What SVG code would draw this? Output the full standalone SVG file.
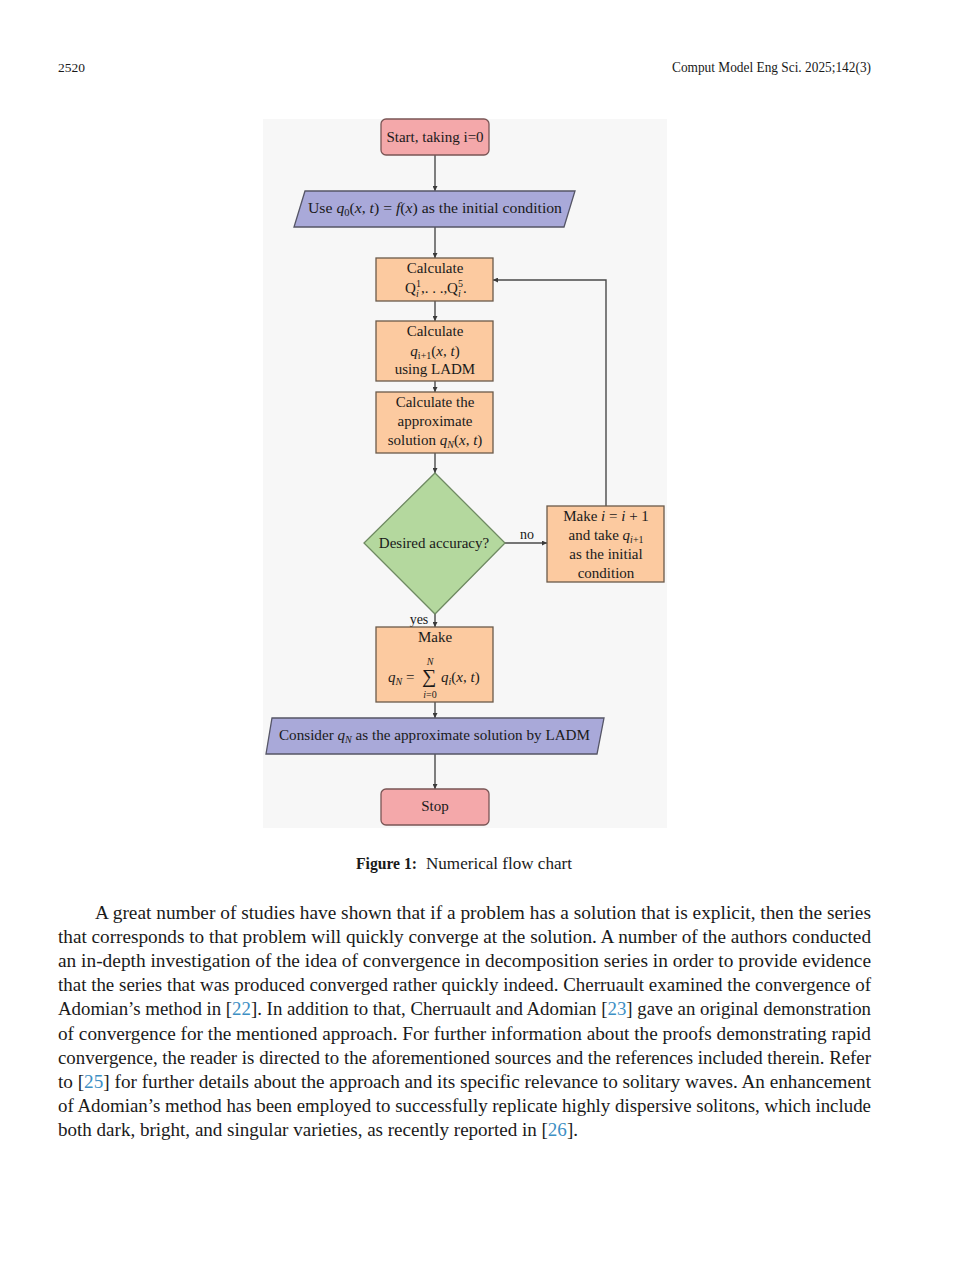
<svg xmlns="http://www.w3.org/2000/svg" width="964" height="1280" viewBox="0 0 964 1280">
<defs>
<style>
.t{font-family:"Liberation Serif","Times New Roman",serif;fill:#1a1a1a}
.n{font-size:15px}
.m{font-style:italic}
.c{text-anchor:middle}
.s{font-size:10px}
.ln{stroke:#4a4a4a;stroke-width:1.4;fill:none}
.term{fill:#f4a8aa;stroke:#7a5555;stroke-width:1.3}
.io{fill:#a9a9d9;stroke:#555566;stroke-width:1.3}
.proc{fill:#fccaa0;stroke:#6b5a4a;stroke-width:1.3}
.dec{fill:#b4d89e;stroke:#6f8a62;stroke-width:1.3}
.body{font-size:18px}
.ref{fill:#3d8fc4}
</style>
<marker id="ah" viewBox="0 0 8 8" refX="8" refY="4" markerWidth="5" markerHeight="5" orient="auto" markerUnits="userSpaceOnUse">
<path d="M0,0 L8,4 L0,8 z" fill="#3a3a3a"/>
</marker>
</defs>
<rect width="964" height="1280" fill="#ffffff"/>

<!-- header -->
<text class="t" x="58" y="72" font-size="13.5">2520</text>
<text class="t" x="871" y="72" font-size="14" text-anchor="end" textLength="199" lengthAdjust="spacingAndGlyphs">Comput Model Eng Sci. 2025;142(3)</text>

<!-- figure panel -->
<rect x="263" y="119" width="404" height="709" fill="#f7f7f7"/>

<g id="connectors">
<line class="ln" x1="435" y1="155" x2="435" y2="191" marker-end="url(#ah)"/>
<line class="ln" x1="435" y1="227" x2="435" y2="258" marker-end="url(#ah)"/>
<line class="ln" x1="435" y1="301" x2="435" y2="321" marker-end="url(#ah)"/>
<line class="ln" x1="435" y1="381" x2="435" y2="392" marker-end="url(#ah)"/>
<line class="ln" x1="435" y1="453" x2="435" y2="473" marker-end="url(#ah)"/>
<line class="ln" x1="505" y1="543" x2="547" y2="543" marker-end="url(#ah)"/>
<polyline class="ln" points="606,506 606,280 493,280" marker-end="url(#ah)"/>
<line class="ln" x1="435" y1="614" x2="435" y2="627" marker-end="url(#ah)"/>
<line class="ln" x1="435" y1="702" x2="435" y2="718" marker-end="url(#ah)"/>
<line class="ln" x1="435" y1="754" x2="435" y2="789" marker-end="url(#ah)"/>
<text class="t c" x="527" y="539" font-size="14">no</text>
<text class="t c" x="419" y="624" font-size="14">yes</text>
</g>

<g id="start">
<rect class="term" x="381" y="119" width="108" height="36" rx="5"/>
<text class="t n c" x="435" y="142">Start, taking i=0</text>
</g>

<g id="init">
<polygon class="io" points="305,191 575,191 564,227 294,227"/>
<text class="t n" x="308" y="213" textLength="254" lengthAdjust="spacingAndGlyphs">Use <tspan class="m">q</tspan><tspan font-size="10" dy="3">0</tspan><tspan dy="-3">(</tspan><tspan class="m">x</tspan>, <tspan class="m">t</tspan>) = <tspan class="m">f</tspan>(<tspan class="m">x</tspan>) as the initial condition</text>
</g>

<g id="calcQ">
<rect class="proc" x="376" y="258" width="117" height="43"/>
<text class="t n c" x="435" y="273">Calculate</text>
<text class="t n" x="405" y="293">Q</text>
<text class="t s" x="416" y="287">1</text>
<text class="t s m" x="416" y="297">i</text>
<text class="t n" x="421" y="293">,. . .,</text>
<text class="t n" x="447" y="293">Q</text>
<text class="t s" x="458" y="287">5</text>
<text class="t s m" x="458" y="297">i</text>
<text class="t n" x="463" y="293">.</text>
</g>

<g id="calcq">
<rect class="proc" x="376" y="321" width="117" height="60"/>
<text class="t n c" x="435" y="336">Calculate</text>
<text class="t n c" x="435" y="356"><tspan class="m">q</tspan><tspan font-size="10" dy="3">i+1</tspan><tspan dy="-3">(</tspan><tspan class="m">x</tspan>, <tspan class="m">t</tspan>)</text>
<text class="t n c" x="435" y="374">using LADM</text>
</g>

<g id="approx">
<rect class="proc" x="376" y="392" width="117" height="61"/>
<text class="t n c" x="435" y="407">Calculate the</text>
<text class="t n c" x="435" y="426">approximate</text>
<text class="t n c" x="435" y="445">solution <tspan class="m">q</tspan><tspan font-size="10" dy="3" class="m">N</tspan><tspan dy="-3">(</tspan><tspan class="m">x</tspan>, <tspan class="m">t</tspan>)</text>
</g>

<g id="decision">
<polygon class="dec" points="435,473 505,543 435,614 364,543"/>
<text class="t n c" x="434" y="548">Desired accuracy?</text>
</g>

<g id="increment">
<rect class="proc" x="547" y="506" width="117" height="76"/>
<text class="t n c" x="606" y="521">Make <tspan class="m">i</tspan> = <tspan class="m">i</tspan> + 1</text>
<text class="t n c" x="606" y="540">and take <tspan class="m">q</tspan><tspan font-size="10" dy="3" class="m">i</tspan><tspan font-size="10">+1</tspan></text>
<text class="t n c" x="606" y="559">as the initial</text>
<text class="t n c" x="606" y="578">condition</text>
</g>

<g id="sum">
<rect class="proc" x="376" y="627" width="117" height="75"/>
<text class="t n c" x="435" y="642">Make</text>
<text class="t n" x="388" y="682"><tspan class="m">q</tspan><tspan font-size="10" dy="3" class="m">N</tspan><tspan dy="-3"> =</tspan></text>
<text class="t" x="422" y="683" font-size="20">∑</text>
<text class="t s m c" x="430" y="665">N</text>
<text class="t s c" x="430" y="698"><tspan class="m">i</tspan>=0</text>
<text class="t n" x="441" y="682"><tspan class="m">q</tspan><tspan font-size="10" dy="3" class="m">i</tspan><tspan dy="-3">(</tspan><tspan class="m">x</tspan>, <tspan class="m">t</tspan>)</text>
</g>

<g id="consider">
<polygon class="io" points="272,718 604,718 597,754 266,754"/>
<text class="t n" x="279" y="740" textLength="311" lengthAdjust="spacingAndGlyphs">Consider <tspan class="m">q</tspan><tspan font-size="10" dy="3" class="m">N</tspan><tspan dy="-3"> as the approximate solution by LADM</tspan></text>
</g>

<g id="stop">
<rect class="term" x="381" y="789" width="108" height="36" rx="5"/>
<text class="t n c" x="435" y="811">Stop</text>
</g>

<!-- caption -->
<text class="t" x="356" y="869" font-size="17" font-weight="bold" textLength="61" lengthAdjust="spacingAndGlyphs">Figure 1:</text>
<text class="t" x="426" y="869" font-size="17" textLength="146" lengthAdjust="spacingAndGlyphs">Numerical flow chart</text>

<!-- body -->
<g class="t body">
<text x="95" y="919" textLength="776" lengthAdjust="spacingAndGlyphs">A great number of studies have shown that if a problem has a solution that is explicit, then the series</text>
<text x="58" y="943" textLength="813" lengthAdjust="spacingAndGlyphs">that corresponds to that problem will quickly converge at the solution. A number of the authors conducted</text>
<text x="58" y="967" textLength="813" lengthAdjust="spacingAndGlyphs">an in-depth investigation of the idea of convergence in decomposition series in order to provide evidence</text>
<text x="58" y="991" textLength="813" lengthAdjust="spacingAndGlyphs">that the series that was produced converged rather quickly indeed. Cherruault examined the convergence of</text>
<text x="58" y="1015" textLength="813" lengthAdjust="spacingAndGlyphs">Adomian’s method in [<tspan class="ref">22</tspan>]. In addition to that, Cherruault and Adomian [<tspan class="ref">23</tspan>] gave an original demonstration</text>
<text x="58" y="1040" textLength="813" lengthAdjust="spacingAndGlyphs">of convergence for the mentioned approach. For further information about the proofs demonstrating rapid</text>
<text x="58" y="1064" textLength="813" lengthAdjust="spacingAndGlyphs">convergence, the reader is directed to the aforementioned sources and the references included therein. Refer</text>
<text x="58" y="1088" textLength="813" lengthAdjust="spacingAndGlyphs">to [<tspan class="ref">25</tspan>] for further details about the approach and its specific relevance to solitary waves. An enhancement</text>
<text x="58" y="1112" textLength="813" lengthAdjust="spacingAndGlyphs">of Adomian’s method has been employed to successfully replicate highly dispersive solitons, which include</text>
<text x="58" y="1136" textLength="520" lengthAdjust="spacingAndGlyphs">both dark, bright, and singular varieties, as recently reported in [<tspan class="ref">26</tspan>].</text>
</g>
</svg>
